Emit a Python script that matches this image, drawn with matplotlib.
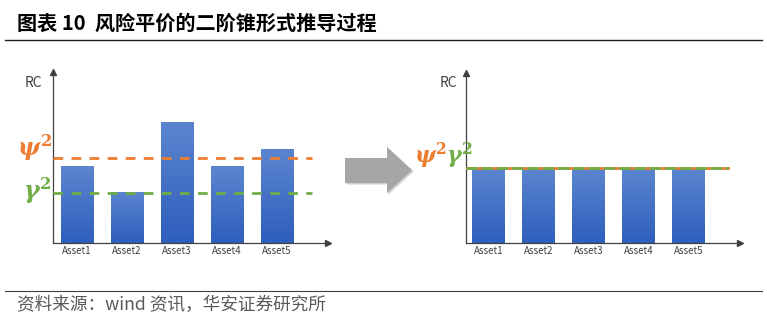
import numpy as np
import matplotlib
matplotlib.use("Agg")
import matplotlib.pyplot as plt
from matplotlib.patches import Polygon

plt.rcParams['font.family'] = ['Noto Sans CJK SC', 'DejaVu Sans']
plt.rcParams['mathtext.fontset'] = 'custom'
plt.rcParams['mathtext.it'] = 'DejaVu Serif:italic:bold'
plt.rcParams['mathtext.rm'] = 'DejaVu Serif:bold'
plt.rcParams['mathtext.bf'] = 'DejaVu Serif:bold'

assets = ["Asset1", "Asset2", "Asset3", "Asset4", "Asset5"]
rc_before = [4.5, 3.0, 7.1, 4.5, 5.5]
rc_after = [4.4, 4.4, 4.4, 4.4, 4.4]
psi2_before = 5.0
gamma2_before = 2.95
level_after = 4.4

W, H = 767, 321
fig = plt.figure(figsize=(W / 100, H / 100), dpi=100)

ORANGE = "#ED7D31"
GREEN = "#70AD47"
grad = np.linspace(0, 1, 64).reshape(-1, 1)
cmap = matplotlib.colors.LinearSegmentedColormap.from_list("bar", ["#2F5FBD", "#5B85CF"])


def px_axes(x0, y_top, x1, y_bot):
    return fig.add_axes([x0 / W, 1 - y_bot / H, (x1 - x0) / W, (y_bot - y_top) / H])


def panel(ax, values, xlim):
    bars = ax.bar(range(len(values)), values, width=0.65, color="#3E6CC6", zorder=2)
    for b in bars:
        x, y = b.get_x(), b.get_y()
        im = ax.imshow(grad, cmap=cmap, aspect="auto", origin="lower",
                       extent=[x, x + b.get_width(), y, y + b.get_height()], zorder=2.1)
        im.set_clip_path(b)
    ax.set_xlim(*xlim)
    ax.set_ylim(0, 10)
    for s in ["top", "right"]:
        ax.spines[s].set_visible(False)
    for s in ["left", "bottom"]:
        ax.spines[s].set_color("#404040")
        ax.spines[s].set_linewidth(0.9)
    ax.plot(1, 0, ">", color="#404040", ms=4, transform=ax.transAxes, clip_on=False)
    ax.plot(0, 1, "^", color="#404040", ms=4, transform=ax.transAxes, clip_on=False)
    ax.set_xticks(range(len(values)))
    ax.set_xticklabels(assets, fontsize=7, color="#404040")
    ax.tick_params(axis="x", length=0, pad=2)
    ax.set_yticks([])
    ax.patch.set_alpha(0)


# left panel
ax1 = px_axes(53, 72, 328, 243)
panel(ax1, rc_before, (-0.48, 5.02))
ax1.plot([-0.48, 4.7], [psi2_before] * 2, color=ORANGE, lw=2, dashes=(3.5, 3), zorder=3)
ax1.plot([-0.48, 4.7], [gamma2_before] * 2, color=GREEN, lw=2, dashes=(3.5, 3), zorder=3)
ax1.text(-0.5, psi2_before + 0.55, r"$\psi^2$", color=ORANGE, fontsize=17, ha="right", va="center")
ax1.text(-0.5, gamma2_before + 0.1, r"$\gamma^2$", color=GREEN, fontsize=17, ha="right", va="center")
fig.text(33 / W, 1 - 83 / H, "RC", fontsize=10, color="#404040", ha="center", va="center")

# right panel
ax2 = px_axes(466, 73, 740, 243)
panel(ax2, rc_after, (-0.45, 5.03))
ax2.plot([-0.45, 4.79], [level_after] * 2, color=ORANGE, lw=2, zorder=3)
ax2.plot([-0.45, 4.79], [level_after] * 2, color=GREEN, lw=2, dashes=(4, 1.5), zorder=3.1)
ax2.text(-0.82, level_after - 0.15, r"$\psi^2$", color=ORANGE, fontsize=16, ha="right", va="bottom")
ax2.text(-0.86, level_after - 0.15, r"$\gamma^2$", color=GREEN, fontsize=16, ha="left", va="bottom")
fig.text(448 / W, 1 - 83 / H, "RC", fontsize=10, color="#404040", ha="center", va="center")


# big gray arrow
def fx(x):
    return x / W


def fy(y):
    return 1 - y / H


pts = [(345, 158), (387, 158), (387, 147), (412, 170), (387, 193), (387, 183), (345, 183)]
shadow = Polygon([(fx(x + 1.5), fy(y + 1.5)) for x, y in pts], closed=True,
                 transform=fig.transFigure, facecolor="#D0D0D0", edgecolor="none")
arrow = Polygon([(fx(x), fy(y)) for x, y in pts], closed=True,
                transform=fig.transFigure, facecolor="#A6A6A6", edgecolor="none")
fig.add_artist(shadow)
fig.add_artist(arrow)

# title and footer
fig.text(17 / W, 1 - 23 / H, "图表 10  风险平价的二阶锥形式推导过程", fontsize=14.5,
         fontweight="bold", color="#000000", ha="left", va="center")
fig.add_artist(plt.Line2D([5 / W, 762 / W], [fy(40), fy(40)], color="#202020", lw=1))
fig.add_artist(plt.Line2D([5 / W, 762 / W], [fy(291), fy(291)], color="#404040", lw=0.8))
fig.text(17 / W, 1 - 305 / H, "资料来源：wind 资讯，华安证券研究所", fontsize=12.7,
         color="#595959", ha="left", va="center")

fig.savefig("out.png", dpi=100)
